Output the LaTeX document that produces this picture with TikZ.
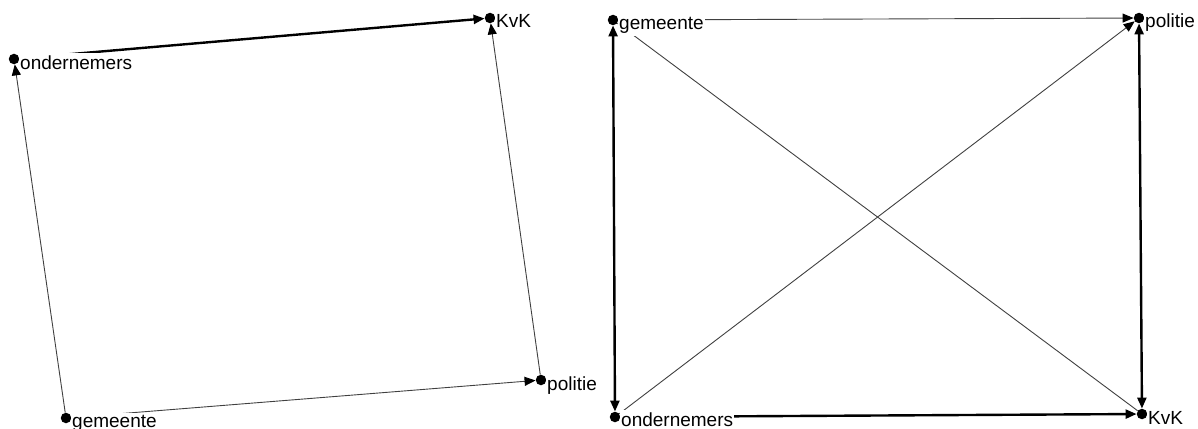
\documentclass[tikz,border=0pt]{standalone}
\usepackage{fontspec}
\setmainfont{Liberation Sans}
\usetikzlibrary{arrows.meta}
\tikzset{
    actor/.style={circle, fill, inner sep=0pt, minimum size=10.5pt},
    lbl/.style={fill=white, inner xsep=1pt, inner ysep=2pt, anchor=base west, font=\fontsize{19}{21}\selectfont},
    tie/.style={line width=0.9pt, black!75},
    strongtie/.style={line width=2.4pt, black},
    nethead/.tip={Triangle[length=11pt,width=9pt,color=black]}}

\begin{document}
\begin{tikzpicture}[x=1pt,y=-1pt]
\useasboundingbox (0,0) rectangle (1198,428);
% left network
\node[actor] (o1) at (14,59) {};
\node[actor] (k1) at (490,18) {};
\node[actor] (g1) at (66,418) {};
\node[actor] (p1) at (541,380) {};
% right network
\node[actor] (g2) at (613,20) {};
\node[actor] (p2) at (1139,18) {};
\node[actor] (o2) at (615,417) {};
\node[actor] (k2) at (1142,414) {};

\draw[strongtie,-nethead] (o1) -- (k1);
\draw[tie,-nethead] (g1) -- (o1);
\draw[tie,-nethead] (p1) -- (k1);
\draw[tie,-nethead] (g1) -- (p1);

\draw[strongtie,nethead-nethead] (g2) -- (o2);
\draw[strongtie,nethead-nethead] (p2) -- (k2);
\draw[strongtie,-nethead] (o2) -- (k2);
\draw[tie,-nethead] (g2) -- (p2);
\draw[tie,-nethead] (o2) -- (p2);
\draw[tie] (g2) -- (k2);

% labels on top
\node[lbl] (lo1) at ([shift={(5,10)}]o1.center) {ondernemers};
\node[lbl] (lk1) at ([shift={(5,10)}]k1.center) {KvK};
\node[lbl] (lg1) at ([shift={(5,9)}]g1.center) {gemeente};
\node[lbl] (lp1) at ([shift={(5,10)}]p1.center) {politie};
\node[lbl] (lg2) at ([shift={(5,10)}]g2.center) {gemeente};
\node[lbl] (lp2) at ([shift={(5,10)}]p2.center) {politie};
\node[lbl] (lo2) at ([shift={(5,9)}]o2.center) {ondernemers};
\node[lbl] (lk2) at ([shift={(5,10)}]k2.center) {KvK};
\end{tikzpicture}
\end{document}
